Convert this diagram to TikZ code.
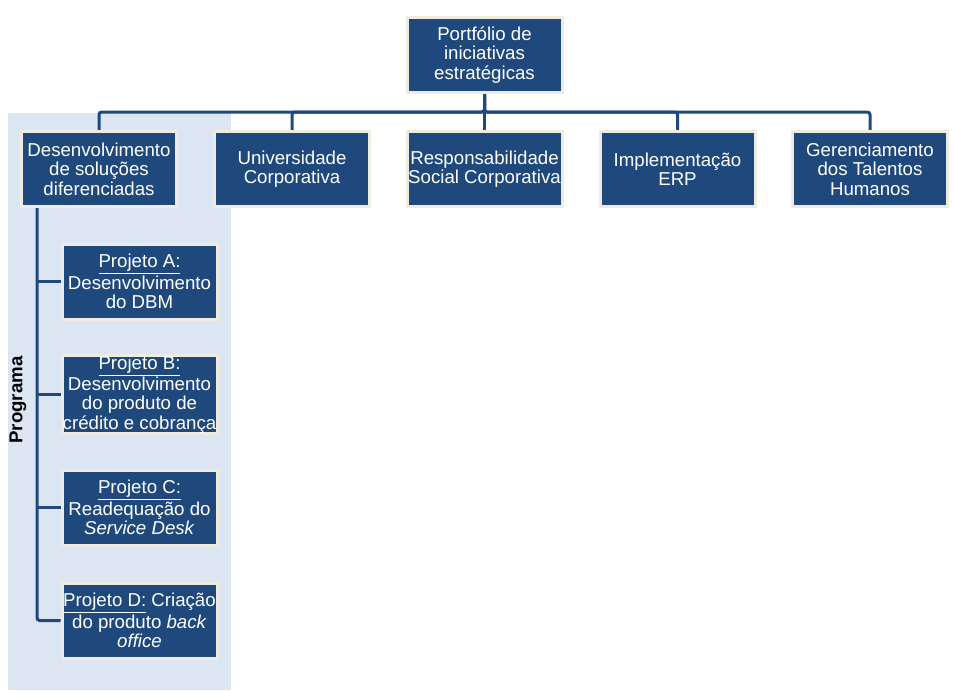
\documentclass[tikz,border=0pt]{standalone}
\usepackage{fontspec}
\setmainfont{Liberation Sans}
\usepackage{xcolor}
\usepackage{tikz}
\usetikzlibrary{
    positioning,
    calc,
    backgrounds
}
\definecolor{boxblue}{HTML}{1F497D}
\definecolor{boxedge}{HTML}{EEECE1}
\definecolor{panelblue}{HTML}{DCE6F2}
\tikzstyle{box} = [
    rectangle, draw=boxedge,
    line width=2.25pt,
    fill=boxblue, text=white,
    minimum width=116.25pt,
    minimum height=56.25pt,
    inner sep=0pt,
    align=center,
    font=\fontsize{14}{14.5}\selectfont
]
\tikzstyle{link} = [
    line width=2.25pt,
    draw=boxblue,
    rounded corners=2pt
]

\begin{document}
\begin{tikzpicture}[x=0.75pt, y=-0.75pt]
    \useasboundingbox (0,0) rectangle (953,692);
    \node[box] (port) at (484.5,55)  {Portfólio de\\iniciativas\\estratégicas};
    \node[box] (des)  at (99,169)    {Desenvolvimento\\de soluções\\diferenciadas};
    \node[box] (univ) at (292,169)   {Universidade\\Corporativa};
    \node[box] (resp) at (484.5,169) {Responsabilidade\\Social Corporativa};
    \node[box] (erp)  at (677.5,169) {Implementação\\ERP};
    \node[box] (tal)  at (870,169)   {Gerenciamento\\dos Talentos\\Humanos};
    \node[box] (pa) at (139.5,281.5) {\underline{Projeto A:}\\Desenvolvimento\\do DBM};
    \node[box] (pb) at (139.5,394.5) {\underline{Projeto B:}\\Desenvolvimento\\do produto de\\crédito e cobrança};
    \node[box] (pc) at (139.5,507.5) {\underline{Projeto C:}\\Readequação do\\\textit{Service Desk}};
    \node[box] (pd) at (139.5,620.5) {\underline{Projeto D:} Criação\\do produto \textit{back}\\\textit{office}};
    \node[rotate=90, font=\fontsize{14}{14.5}\selectfont\bfseries] (prog) at (18,400) {Programa};
    \begin{scope}[on background layer]
        \fill[panelblue] (8,113) rectangle (231,690);
        \coordinate (bus) at (484.5,112);
        \foreach \n in {des,univ,resp,erp,tal}
            \draw[link] (port.south) -- (port.south |- bus) -| (\n.north);
        \coordinate (trunk) at ($(des.south west)+(17,0)$);
        \foreach \n in {pa,pb,pc}
            \draw[link] (trunk |- \n.west) -- (\n.west);
        \draw[link] (trunk) |- (pd.west);
    \end{scope}
\end{tikzpicture}
\end{document}
